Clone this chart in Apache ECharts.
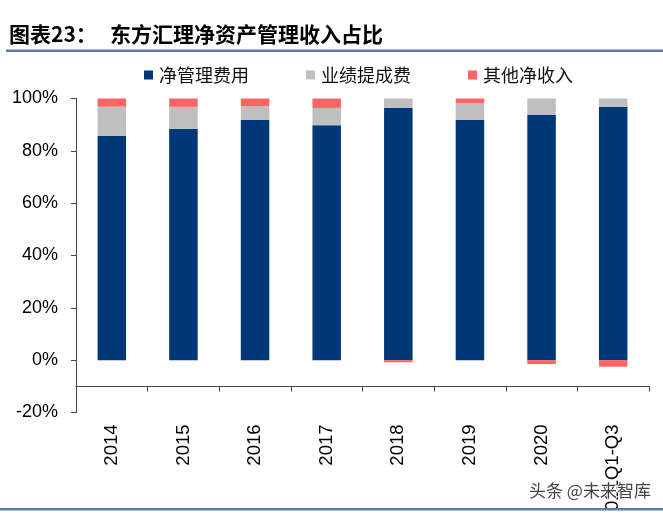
<!DOCTYPE html>
<html>
<head>
<meta charset="utf-8">
<script src="https://cdn.jsdelivr.net/npm/echarts@6/dist/echarts.min.js"></script>
<style>
html,body{margin:0;padding:0;background:#fff;}
#main{width:663px;height:515px;}
</style>
</head>
<body>
<div id="main"></div>
<script>
const categories = ['2014', '2015', '2016', '2017', '2018', '2019', '2020', '2021Q1-Q3'];
const netMgmtFee = [85.8, 88.4, 91.8, 89.8, 96.5, 91.9, 93.7, 96.8];
const perfFee = [11.1, 8.4, 5.3, 6.6, 3.7, 6.4, 6.5, 3.4];
const otherNet = [3.2, 3.3, 3.0, 3.7, -0.8, 1.8, -1.5, -2.5];
const yTicks = [-20, 0, 20, 40, 60, 80, 100];
const seriesNames = ['净管理费用', '业绩提成费', '其他净收入'];
const colors = ['#003777', '#bfbfbf', '#ff6464'];

const chart = echarts.init(document.getElementById('main'), null, {renderer: 'canvas'});
const sans = 'Liberation Sans, Arial, sans-serif';
const cjk = 'Noto Sans CJK SC, sans-serif';

chart.setOption({
  animation: false,
  backgroundColor: '#fff',
  color: colors,
  grid: {left: 76, right: 14, top: 98.5, bottom: 102.5, containLabel: false, outerBoundsMode: 'none'},
  legend: {
    left: 139, top: 61,
    itemWidth: 9, itemHeight: 9, itemGap: 57,
    icon: 'rect',
    textStyle: {fontFamily: cjk, fontSize: 18, color: '#111', padding: [0, 0, 0, 1]},
    data: seriesNames
  },
  xAxis: {
    type: 'category',
    data: categories,
    offset: -26,
    boundaryGap: true,
    axisLine: {show: true, onZero: false, lineStyle: {color: '#444', width: 1}},
    axisTick: {show: true, length: 5, alignWithLabel: false, lineStyle: {color: '#444'}},
    axisLabel: {rotate: 90, margin: 38, fontFamily: sans, fontSize: 18.5, color: '#000', interval: 0}
  },
  yAxis: {
    type: 'value',
    min: yTicks[0], max: yTicks[yTicks.length - 1], interval: 20,
    axisLine: {show: true, lineStyle: {color: '#444', width: 1}},
    axisTick: {show: true, length: 5, lineStyle: {color: '#444'}},
    splitLine: {show: false},
    axisLabel: {margin: 18, fontFamily: sans, fontSize: 18, color: '#000', formatter: v => v + '%'}
  },
  series: [
    {name: seriesNames[0], type: 'bar', stack: 'total', barWidth: 28.5, data: netMgmtFee},
    {name: seriesNames[1], type: 'bar', stack: 'total', barWidth: 28.5, data: perfFee},
    {name: seriesNames[2], type: 'bar', stack: 'total', barWidth: 28.5, data: otherNet}
  ],
  graphic: [
    {type: 'text', left: 9, top: 24, style: {text: '图表23：', font: 'bold 21px ' + cjk, fill: '#000'}},
    {type: 'text', left: 110, top: 24, style: {text: '东方汇理净资产管理收入占比', font: 'bold 21px ' + cjk, fill: '#000'}},
    {type: 'rect', shape: {x: 6, y: 49.5, width: 657, height: 2.5}, style: {fill: '#5a7db0'}},
    {type: 'rect', z: 99, shape: {x: 0, y: 510.5, width: 663, height: 5}, style: {fill: '#fff'}},
    {type: 'rect', z: 100, shape: {x: 0, y: 508, width: 663, height: 2.5}, style: {fill: '#5a7db0'}},
    {type: 'text', left: 528, top: 481, z: 100, style: {text: '头条 @未来智库', font: '17px ' + cjk, fill: '#444', stroke: '#fff', lineWidth: 2}}
  ]
});
</script>
</body>
</html>
